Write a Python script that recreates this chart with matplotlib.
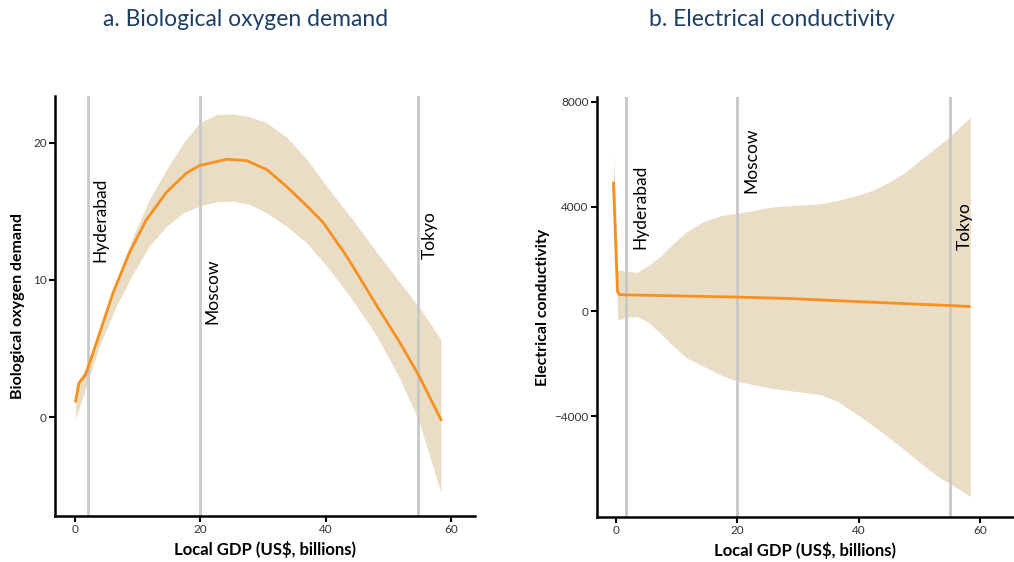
import numpy as np
import matplotlib
matplotlib.use('Agg')
import matplotlib.pyplot as plt

plt.rcParams['font.family'] = ['Lato', 'DejaVu Sans']

# a. Biological oxygen demand: fitted line and confidence band
bod_x = [0.1, 0.64, 1.7, 3.4, 6.1, 8.7, 11.4, 14.6, 17.8, 19.9, 24.2, 27.4, 30.6,
         33.8, 37.0, 39.6, 43.4, 48.2, 51.9, 54.8, 58.4]
bod_y = [1.17, 2.5, 3.1, 5.4, 9.1, 12.0, 14.4, 16.4, 17.8, 18.35, 18.8, 18.7, 18.05,
         16.8, 15.4, 14.2, 11.7, 8.1, 5.4, 3.1, -0.17]
bod_band_x = [0.1, 1.8, 3.9, 6.6, 9.3, 11.9, 14.6, 17.3, 19.9, 22.6, 25.3, 27.9, 30.6,
              33.8, 37.0, 40.2, 43.9, 48.2, 51.9, 54.8, 58.4]
bod_upper = [2.26, 3.7, 6.4, 10.0, 13.2, 15.9, 18.06, 20.0, 21.46, 22.07, 22.1, 21.9, 21.46,
             20.4, 18.8, 16.8, 14.65, 12.0, 9.8, 8.1, 5.66]
bod_lower = [-0.12, 2.26, 5.2, 8.1, 10.5, 12.5, 13.9, 14.9, 15.4, 15.7, 15.75, 15.5, 14.9,
             13.9, 12.7, 11.0, 8.8, 5.9, 2.75, -0.17, -5.5]

# b. Electrical conductivity
ec_x = [-0.44, 0.22, 0.55, 20.0, 28.1, 39.1, 58.2]
ec_y = [4898, 763, 636, 547, 496, 382, 191]
ec_band_x = [-0.44, 0.0, 0.25, 0.6, 1.65, 3.42, 5.07, 7.27, 9.48, 11.68, 14.44, 17.19, 20.0,
             22.7, 25.45, 28.2, 33.7, 36.5, 40.2, 42.5, 44.7, 47.5, 50.2, 53.0, 55.3, 58.4]
ec_upper = [6000, 3600, 1550, 1590, 1527, 1489, 1718, 2099, 2608, 3053, 3435, 3651, 3753,
            3855, 3982, 4033, 4109, 4237, 4453, 4644, 4898, 5280, 5789, 6298, 6743, 7417]
ec_lower = [4700, 2500, -300, -318, -216, -191, -382, -827, -1336, -1781, -2099, -2417, -2672,
            -2799, -2926, -3015, -3181, -3435, -4008, -4389, -4771, -5280, -5789, -6298, -6616,
            -7061]

# reference cities
cities = ['Hyderabad', 'Moscow', 'Tokyo']
city_x_a = [2.07, 20.0, 54.7]
city_x_b = [1.65, 20.0, 55.1]
label_y_a = [11.3, 6.8, 11.5]
label_y_b = [2380, 4505, 2340]

LINE = '#F7901E'
BAND = '#EADDC6'
VLINE = '#C8C8C8'
TITLE = '#1C3F63'

fig = plt.figure(figsize=(10.14, 5.62), dpi=100)
ax1 = fig.add_axes([0.0542, 0.0819, 0.414, 0.747])
ax2 = fig.add_axes([0.5885, 0.0801, 0.4115, 0.747])


def style(ax):
    for s in ['top', 'right']:
        ax.spines[s].set_visible(False)
    for s in ['left', 'bottom']:
        ax.spines[s].set_linewidth(1.8)
        ax.spines[s].set_color('black')
    ax.tick_params(direction='out', length=4, width=1.5, labelsize=8.5,
                   labelcolor='#333333', pad=2)
    ax.set_xlabel('Local GDP (US$, billions)', fontsize=12, fontweight='bold', labelpad=4)


# panel a
ax1.fill_between(bod_band_x, bod_lower, bod_upper, color=BAND, lw=0, zorder=1)
for cx, name, ly in zip(city_x_a, cities, label_y_a):
    ax1.axvline(cx, color=VLINE, lw=2, zorder=2)
    ax1.text(cx + 1.9, ly, name, rotation=90, ha='center', va='bottom', fontsize=12.5)
ax1.plot(bod_x, bod_y, color=LINE, lw=2, zorder=3)
ax1.set_xlim(-3.2, 63.8)
ax1.set_ylim(-7.2, 23.4)
ax1.set_xticks([0, 20, 40, 60])
ax1.set_yticks([0, 10, 20])
style(ax1)
ax1.set_ylabel('Biological oxygen demand', fontsize=11.5, fontweight='bold', labelpad=6)

# panel b
ax2.fill_between(ec_band_x, ec_lower, ec_upper, color=BAND, lw=0, zorder=1)
for cx, name, ly in zip(city_x_b, cities, label_y_b):
    ax2.axvline(cx, color=VLINE, lw=2, zorder=2)
    ax2.text(cx + 2.3, ly, name, rotation=90, ha='center', va='bottom', fontsize=12.5)
ax2.plot(ec_x, ec_y, color=LINE, lw=2, zorder=3)
ax2.set_xlim(-3.2, 65.6)
ax2.set_ylim(-7850, 8180)
ax2.set_xticks([0, 20, 40, 60])
ax2.set_yticks([-4000, 0, 4000, 8000])
style(ax2)
ax2.set_ylabel('Electrical conductivity', fontsize=11.5, fontweight='bold', labelpad=3)

fig.text(0.242, 0.965, 'a. Biological oxygen demand', ha='center', va='center',
         fontsize=16.5, color=TITLE)
fig.text(0.761, 0.965, 'b. Electrical conductivity', ha='center', va='center',
         fontsize=16.5, color=TITLE)

fig.savefig('out.png', dpi=100)
